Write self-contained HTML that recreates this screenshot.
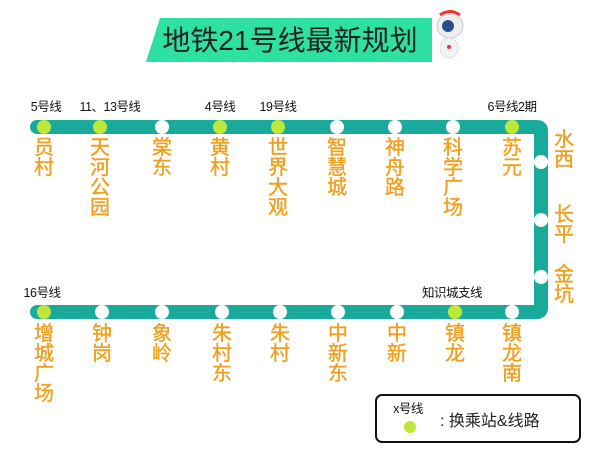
<!DOCTYPE html>
<html><head><meta charset="utf-8"><style>
html,body{margin:0;padding:0;background:#fff;width:600px;height:450px;overflow:hidden}
svg{display:block}
.st{font-family:"Liberation Sans","Noto Sans CJK SC",sans-serif;font-size:20px;fill:#f0a020;stroke:#f0a020;stroke-width:0.4;text-anchor:middle}
.ln{font-family:"Liberation Sans","Noto Sans CJK SC",sans-serif;font-size:12.5px;fill:#111;text-anchor:middle;letter-spacing:-0.5px}
</style></head><body>
<svg width="600" height="450" viewBox="0 0 600 450" xmlns="http://www.w3.org/2000/svg">
<polygon points="160,18 432,18 432,62 146,62" fill="#2fe0a3"/>
<text x="290" y="50" font-family="'Liberation Sans','Noto Sans CJK SC',sans-serif" font-size="28" fill="#222" text-anchor="middle">地铁21号线最新规划</text>
<ellipse cx="450" cy="26" rx="13" ry="12" fill="#eee" stroke="#ccc"/>
<circle cx="448" cy="26" r="6" fill="#2a4d8c"/>
<path d="M440 15 Q450 8 460 15" stroke="#e33" stroke-width="3" fill="none"/>
<ellipse cx="449" cy="48" rx="9" ry="10" fill="#f3f3f3" stroke="#ddd"/>
<circle cx="449" cy="47" r="2" fill="#e33"/>
<path d="M37 127 H537 Q541 127 541 131 V308 Q541 312 537 312 H37" fill="none" stroke="#1aaa9c" stroke-width="14" stroke-linecap="round"/>
<g fill="#fff">
<circle cx="162" cy="127" r="7"/><circle cx="337" cy="127" r="7"/><circle cx="395" cy="127" r="7"/><circle cx="453" cy="127" r="7"/>
<circle cx="541" cy="162" r="7"/><circle cx="541" cy="220" r="7"/><circle cx="541" cy="277" r="7"/>
<circle cx="102" cy="312" r="7"/><circle cx="162" cy="312" r="7"/><circle cx="222" cy="312" r="7"/><circle cx="280" cy="312" r="7"/><circle cx="338" cy="312" r="7"/><circle cx="397" cy="312" r="7"/><circle cx="512" cy="312" r="7"/>
</g>
<g fill="#bde83a">
<circle cx="44" cy="127" r="7"/><circle cx="100" cy="127" r="7"/><circle cx="220" cy="127" r="7"/><circle cx="278" cy="127" r="7"/><circle cx="512" cy="127" r="7"/>
<circle cx="44" cy="312" r="7"/><circle cx="455" cy="312" r="7"/>
</g>
<g class="ln">
<text x="46" y="111">5号线</text><text x="110" y="111">11、13号线</text><text x="220" y="111">4号线</text><text x="278" y="111">19号线</text><text x="512" y="111">6号线2期</text>
<text x="42" y="297">16号线</text><text x="452" y="297">知识城支线</text>
</g>
<g class="st">
<text x="44" y="154">员</text><text x="44" y="174">村</text>
<text x="100" y="154">天</text><text x="100" y="174">河</text><text x="100" y="194">公</text><text x="100" y="214">园</text>
<text x="162" y="154">棠</text><text x="162" y="174">东</text>
<text x="220" y="154">黄</text><text x="220" y="174">村</text>
<text x="278" y="154">世</text><text x="278" y="174">界</text><text x="278" y="194">大</text><text x="278" y="214">观</text>
<text x="337" y="154">智</text><text x="337" y="174">慧</text><text x="337" y="194">城</text>
<text x="395" y="154">神</text><text x="395" y="174">舟</text><text x="395" y="194">路</text>
<text x="453" y="154">科</text><text x="453" y="174">学</text><text x="453" y="194">广</text><text x="453" y="214">场</text>
<text x="512" y="154">苏</text><text x="512" y="174">元</text>
<text x="564" y="146">水</text><text x="564" y="166">西</text>
<text x="564" y="221">长</text><text x="564" y="241">平</text>
<text x="564" y="281">金</text><text x="564" y="301">坑</text>
<text x="44" y="340">增</text><text x="44" y="360">城</text><text x="44" y="380">广</text><text x="44" y="400">场</text>
<text x="102" y="340">钟</text><text x="102" y="360">岗</text>
<text x="162" y="340">象</text><text x="162" y="360">岭</text>
<text x="222" y="340">朱</text><text x="222" y="360">村</text><text x="222" y="380">东</text>
<text x="280" y="340">朱</text><text x="280" y="360">村</text>
<text x="338" y="340">中</text><text x="338" y="360">新</text><text x="338" y="380">东</text>
<text x="397" y="340">中</text><text x="397" y="360">新</text>
<text x="455" y="340">镇</text><text x="455" y="360">龙</text>
<text x="512" y="340">镇</text><text x="512" y="360">龙</text><text x="512" y="380">南</text>
</g>
<rect x="376" y="395" width="204" height="47" rx="6" fill="#fff" stroke="#111" stroke-width="2"/>
<text x="408" y="413" class="ln">x号线</text>
<circle cx="410" cy="427" r="6" fill="#bde83a"/>
<text x="440" y="426" font-family="'Liberation Sans','Noto Sans CJK SC',sans-serif" font-size="16" fill="#222">: 换乘站&amp;线路</text>
</svg>
</body></html>
